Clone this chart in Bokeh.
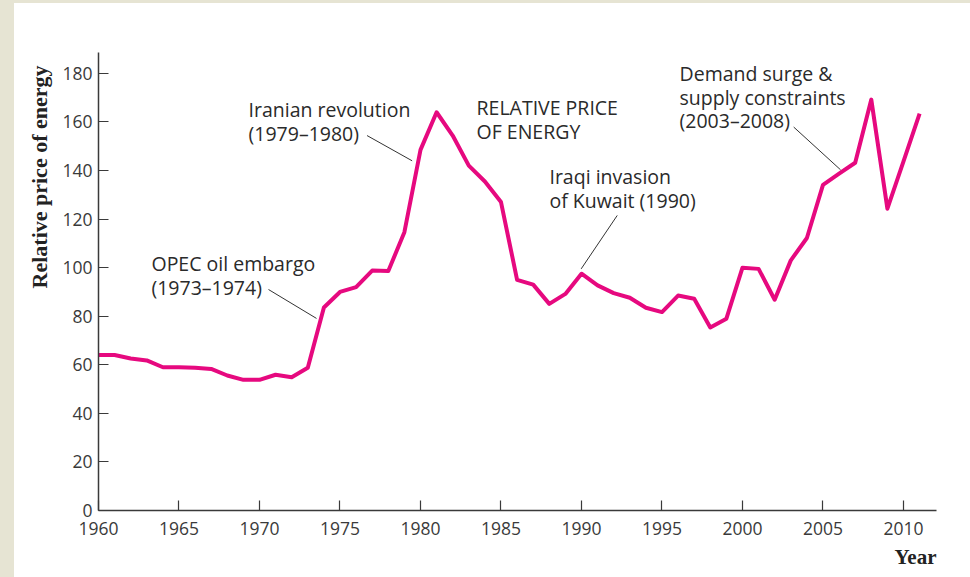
from bokeh.plotting import figure
from bokeh.models import Range1d, FixedTicker, Title, ColumnDataSource
from bokeh.core.properties import value
from bokeh.embed import file_html
from bokeh.resources import INLINE

years = list(range(1960, 2012))
price = [64, 64, 62.6, 61.8, 59, 59, 58.8, 58.3, 55.6, 53.8, 53.8, 55.9, 54.9, 58.8,
         83.6, 90, 92, 98.8, 98.6, 114.6, 148.5, 164, 154.4, 142, 135.5, 127,
         95, 93, 85.1, 89.2, 97.5, 92.7, 89.5, 87.6, 83.5, 81.7, 88.5, 87.2, 75.4, 79,
         100, 99.5, 86.8, 103, 112.2, 134.1, 138.7, 143.2, 169.2, 124.3, 143.8, 163.4]

y_ticks = [0, 20, 40, 60, 80, 100, 120, 140, 160, 180]
x_ticks = [1960, 1965, 1970, 1975, 1980, 1985, 1990, 1995, 2000, 2005, 2010]

ann_lines = [
    ["OPEC oil embargo", "(1973\u20131974)"],
    ["Iranian revolution", "(1979\u20131980)"],
    ["RELATIVE PRICE", "OF ENERGY"],
    ["Iraqi invasion", "of Kuwait (1990)"],
    ["Demand surge &", "supply constraints", "(2003\u20132008)"],
]
ann_x = [1963.29, 1969.32, 1983.48, 1988.01, 1996.09]
ann_y_top = [101.7, 165.2, 166.0, 137.6, 180.0]
line_step = 9.8

leader_x0 = [1970.56, 1976.68, 1992.22, 2003.18]
leader_y0 = [91.0, 154.4, 121.5, 157.9]
leader_x1 = [1973.54, 1979.48, 1989.98, 2006.09]
leader_y1 = [79.1, 144.0, 99.5, 140.3]

beige = "#e6e4d3"
p = figure(width=970, height=577, output_backend="svg", toolbar_location=None,
           x_range=Range1d(1960, 2012.05), y_range=Range1d(0, 188.6),
           min_border_left=98, min_border_right=34, min_border_top=52, min_border_bottom=67,
           styles={"background": f"linear-gradient(to right, {beige} 14px, transparent 14px) no-repeat, "
                                 f"linear-gradient(to bottom, {beige} 3px, white 3px) no-repeat"})
p.outline_line_color = None
p.grid.visible = False
p.background_fill_color = "white"
p.border_fill_color = None

axis_color = "#3a3a3a"
for ax in (p.xaxis[0], p.yaxis[0]):
    ax.axis_line_color = axis_color
    ax.axis_line_width = 1.5
    ax.major_tick_line_color = axis_color
    ax.major_tick_line_width = 1.2
    ax.major_tick_in = 10
    ax.major_tick_out = 0
    ax.minor_tick_line_color = None
    ax.major_label_text_font = "Open Sans"
    ax.major_label_text_font_size = "17.5px"
    ax.major_label_text_color = axis_color

p.xaxis.ticker = FixedTicker(ticks=x_ticks)
p.yaxis.ticker = FixedTicker(ticks=y_ticks)
p.xaxis.major_label_standoff = 11
p.yaxis.major_label_standoff = 6

p.add_layout(Title(text="Relative price of energy", align="right", text_font="Liberation Serif",
                   text_font_style="bold", text_font_size="22px", text_color="#222222",
                   standoff=15, offset=13), "left")
p.add_layout(Title(text="Year", align="right", text_font="Liberation Serif",
                   text_font_style="bold", text_font_size="21px", text_color="#222222",
                   standoff=10, offset=0), "below")

src = ColumnDataSource(dict(x=years, y=price))
p.line("x", "y", source=src, line_color="#e6097f", line_width=4, line_join="round")

p.segment(x0=leader_x0, y0=leader_y0, x1=leader_x1, y1=leader_y1,
          line_color="#333333", line_width=1)

tx, ty, tt = [], [], []
for lines, x0, y0 in zip(ann_lines, ann_x, ann_y_top):
    for i, t in enumerate(lines):
        tx.append(x0)
        ty.append(y0 - i * line_step)
        tt.append(t)
p.text(x=tx, y=ty, text=tt, text_font=value("Open Sans"), text_font_size="19.5px",
       text_color="#2a2a2a", text_align="left", text_baseline="middle")

open("out.html", "w").write(file_html(p, INLINE))
